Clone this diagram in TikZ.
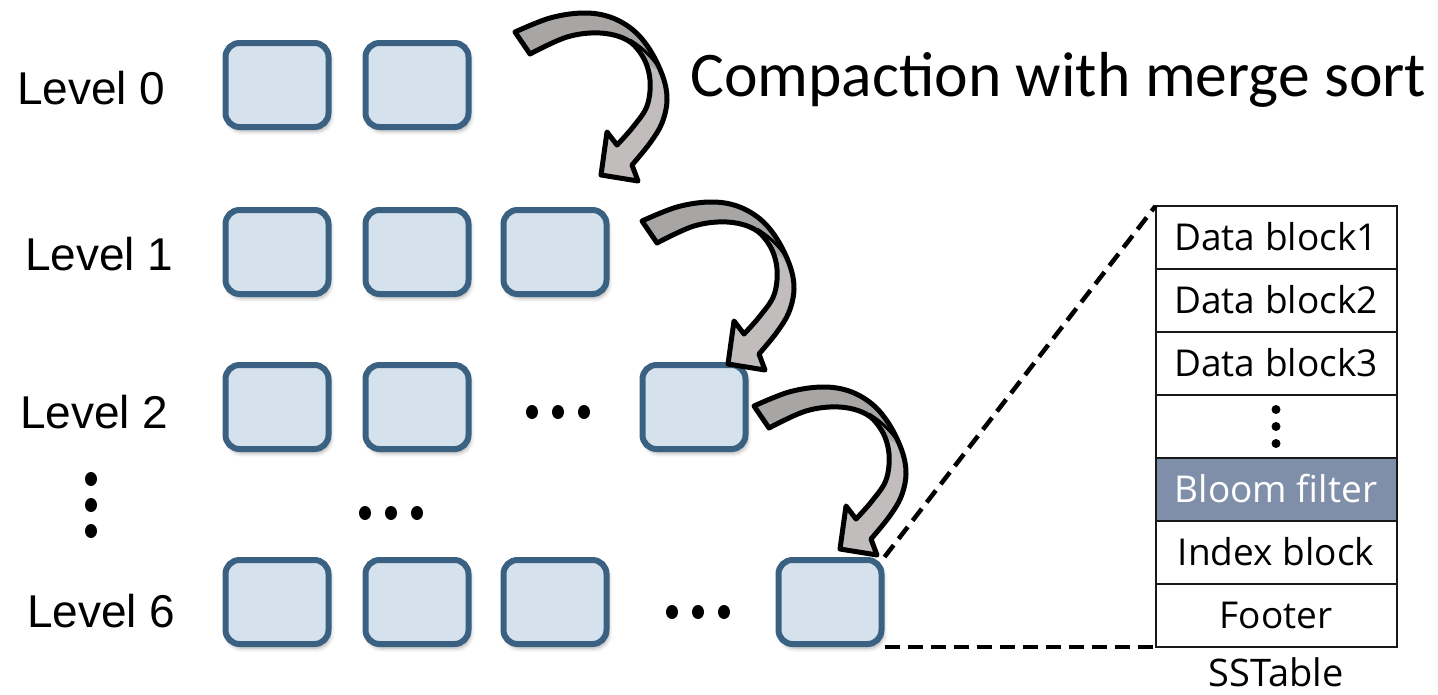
\documentclass[tikz,border=0pt]{standalone}
\usepackage{fontspec}
\setmainfont{Liberation Sans}
\newfontfamily\titlefont{Carlito}
\newfontfamily\tablefont{Open Sans}
\usetikzlibrary{shadows.blur, shapes.geometric, positioning}

\definecolor{boxfill}{HTML}{D5E2ED}
\definecolor{boxline}{HTML}{3A6182}
\definecolor{bloom}{HTML}{7F8FAA}
\definecolor{arrowdark}{HTML}{A8A5A5}
\definecolor{arrowlight}{HTML}{C2BDBD}

\tikzset{
  sst/.style={
    draw=boxline, fill=boxfill, line width=6pt, rounded corners=14pt,
    minimum width=103pt, minimum height=84pt, inner sep=0pt,
    blur shadow={shadow xshift=2pt, shadow yshift=-4pt,
                 shadow blur radius=4pt, shadow opacity=35}},
  levellabel/.style={anchor=base west, inner sep=0pt,
    font=\fontsize{46}{50}\selectfont},
  dotmark/.style={fill=black, ellipse, minimum width=12pt,
    minimum height=14pt, inner sep=0pt},
  tablerow/.style={draw=black!90, line width=2pt, minimum width=241pt,
    minimum height=63pt, inner sep=0pt, outer sep=0pt,
    text height=26pt, text depth=0pt,
    font=\tablefont\fontsize{37}{40}\selectfont},
  link/.style={draw=black, line width=4.5pt, dash pattern=on 15pt off 8pt},
  twist/.style={line width=5pt, line join=round, draw=black}
}

\begin{document}
\begin{tikzpicture}[x=1pt, y=-1pt]
  \path[use as bounding box] (0,0) rectangle (1438,694);

  % level labels
  \node[levellabel] (l0) at (17,104) {Level 0};
  \node[levellabel] (l1) at (25,270) {Level 1};
  \node[levellabel] (l2) at (20,428) {Level 2};
  \node[levellabel] (l6) at (27,627) {Level 6};

  % vertical ellipsis between levels
  \foreach \yy [count=\i] in {479,505,531}
    \node[dotmark] (vd\i) at (91,\yy) {};

  % SSTable files of each level
  \node[sst] (b01) at (277,85) {};
  \node[sst] (b02) at (417,85) {};

  \node[sst] (b11) at (277,252) {};
  \node[sst] (b12) at (417,252) {};
  \node[sst] (b13) at (555,252) {};

  \node[sst] (b21) at (277,407) {};
  \node[sst] (b22) at (417,407) {};
  \node[sst] (b24) at (694,407) {};

  \node[sst] (b61) at (277,602) {};
  \node[sst] (b62) at (417,602) {};
  \node[sst] (b63) at (555,602) {};
  \node[sst] (b65) at (830,602) {};

  % horizontal ellipses
  \foreach \xx [count=\i] in {532,558,584}
    \node[dotmark] (hd2\i) at (\xx,412) {};
  \foreach \xx [count=\i] in {365,391,417}
    \node[dotmark] (hdm\i) at (\xx,513) {};
  \foreach \xx [count=\i] in {672,698,724}
    \node[dotmark] (hd6\i) at (\xx,612) {};

  % title
  \node[anchor=base west, inner sep=0pt,
        font=\titlefont\fontsize{63.6}{70}\selectfont] (title) at (690,96)
        {Compaction with merge sort};

  % curved compaction arrows
  \def\arrowpath{
    plot[smooth, tension=0.6] coordinates {(515,32) (550,18) (583,13)
      (610,17) (633,30) (650,50) (663,77) (667,100) (662,123) (650,143)
      (632,165)}
    -- (638,181) -- (601,175) -- (607,132)
    -- plot[smooth, tension=0.6] coordinates {(617,145) (633,127)
      (647,106) (650,80) (643,57) (627,40) (600,33) (567,37) (530,54)}
    -- cycle}
  \foreach \sx/\sy in {0/0, 127/189, 239/374} {
    \begin{scope}[shift={(\sx,\sy)}]
      \begin{scope}
        \clip \arrowpath;
        \fill[arrowlight] (490,0) rectangle (700,200);
        \fill[arrowdark] (490,0) -- (640,0) -- (672,78) -- (640,60)
          -- (600,60) -- (490,80) -- cycle;
        \draw[line width=3pt] (630,40) .. controls (650,52) and (660,68) .. (668,82);
      \end{scope}
      \draw[twist] \arrowpath;
    \end{scope}
  }

  % SSTable layout
  \node[tablerow] (t1) at (1276,237.5) {Data block1};
  \node[tablerow, below=0pt of t1] (t2) {Data block2};
  \node[tablerow, below=0pt of t2] (t3) {Data block3};
  \node[tablerow, below=0pt of t3] (t4) {};
  \node[tablerow, below=0pt of t4, fill=bloom, text=white] (t5) {Bloom filter};
  \node[tablerow, below=0pt of t5] (t6) {Index block};
  \node[tablerow, below=0pt of t6] (t7) {Footer};
  \foreach \dy [count=\i] in {-17,0,17}
    \fill ([yshift=-\dy pt]t4.center) circle (4.5pt);
  \node[anchor=base, inner sep=0pt,
        font=\tablefont\fontsize{38}{42}\selectfont] (cap) at (1276,686)
        {SSTable};

  % zoom-in lines from the last file to the table
  \draw[link] (b65.north east) -- (t1.north west);
  \draw[link] (b65.south east) -- (t7.south west);
\end{tikzpicture}
\end{document}
